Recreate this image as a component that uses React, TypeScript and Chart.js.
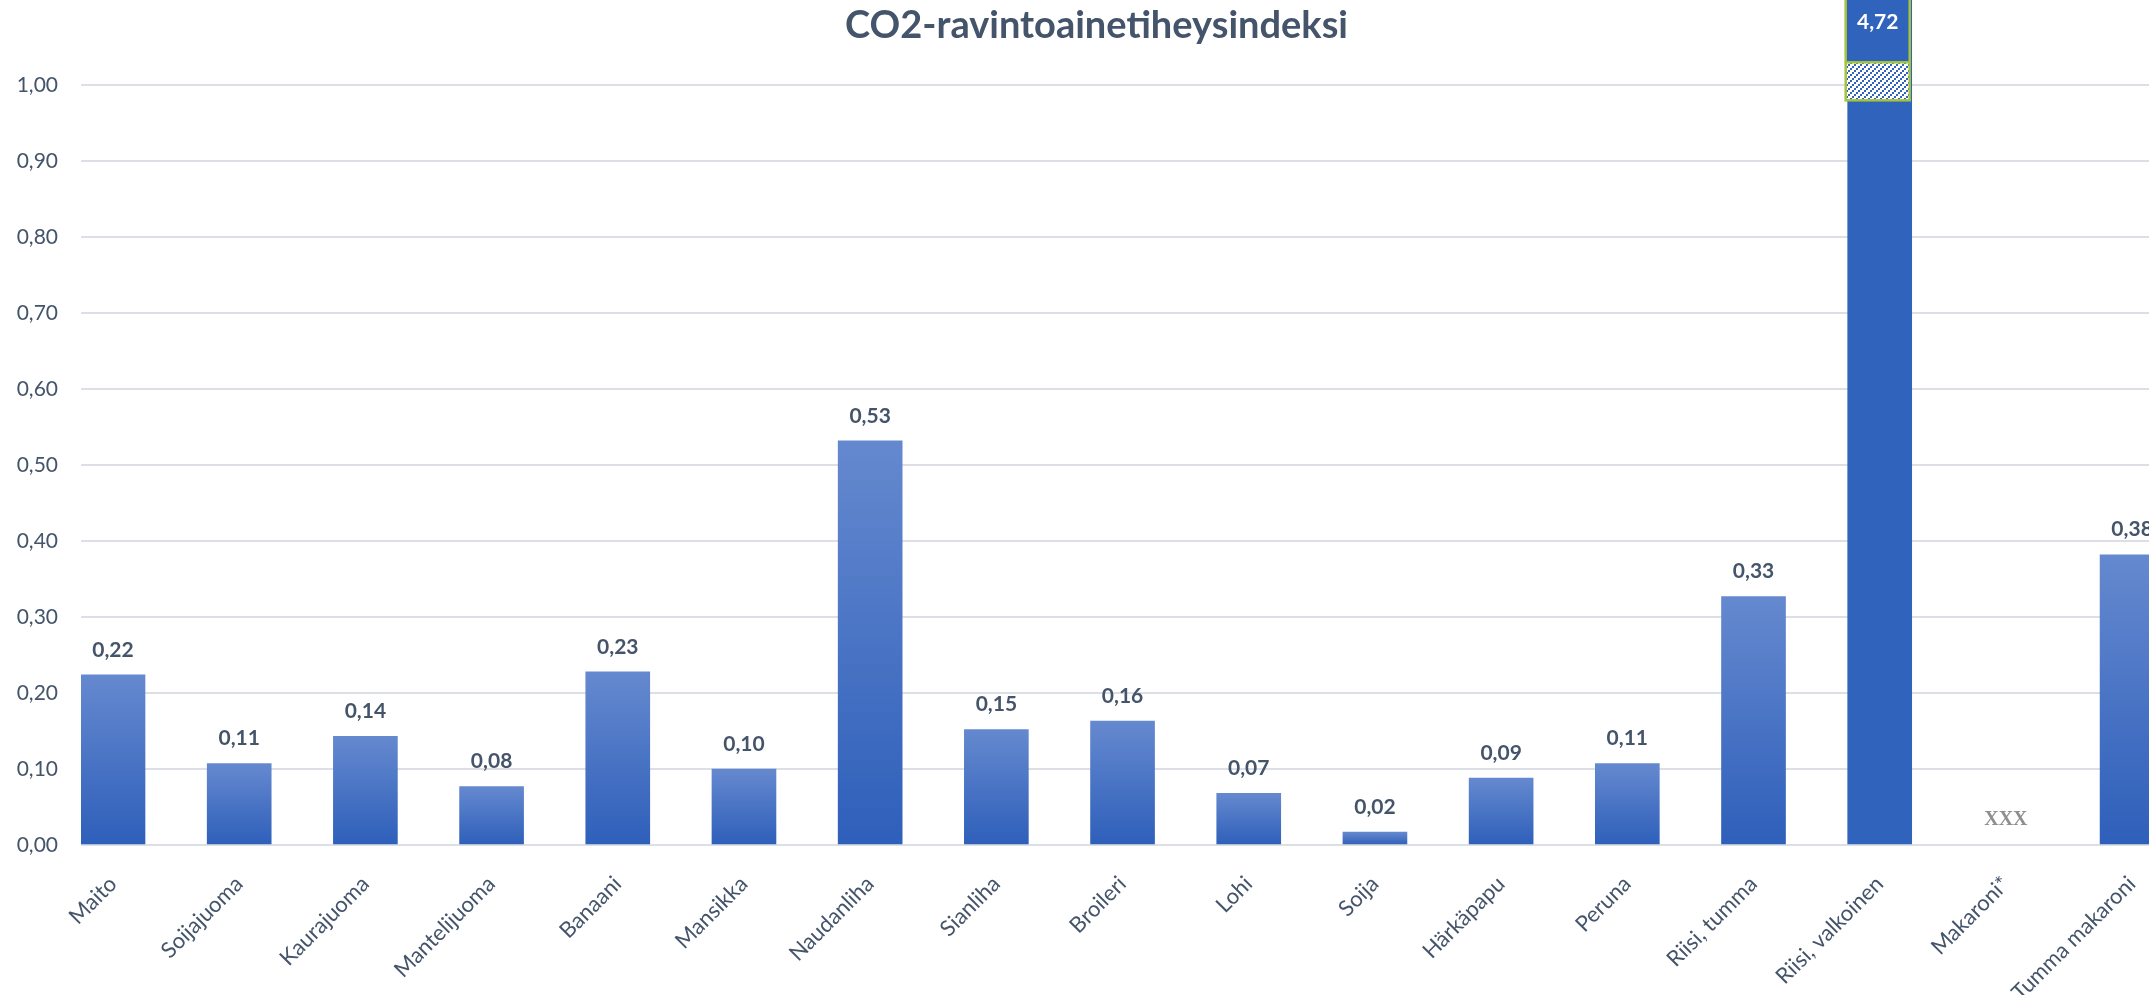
import { useEffect, useRef } from 'react';
import { Chart, registerables } from 'chart.js';

Chart.register(...registerables);

// Foods on the category axis
const categories = [
  'Maito',
  'Soijajuoma',
  'Kaurajuoma',
  'Mantelijuoma',
  'Banaani',
  'Mansikka',
  'Naudanliha',
  'Sianliha',
  'Broileri',
  'Lohi',
  'Soija',
  'Härkäpapu',
  'Peruna',
  'Riisi, tumma',
  'Riisi, valkoinen',
  'Makaroni*',
  'Tumma makaroni',
];

// CO2 nutrient density index per food (null = no value available)
const indexValues: (number | null)[] = [
  0.224, 0.107, 0.143, 0.077, 0.228, 0.1, 0.532, 0.152, 0.163, 0.068, 0.017, 0.088, 0.107, 0.327,
  4.72, null, 0.382,
];

const chartTitle = 'CO2-ravintoainetiheysindeksi';
const missingLabel = 'XXX';

// Value axis: labelled 0,00 … 1,00, with some headroom above for the broken bar
const yTickStep = 0.1;
const yTickMax = 1.0;
const yAxisMax = 1.112;
// Axis-break band drawn across bars that exceed the axis
const breakFrom = 0.98;
const breakTo = 1.03;

// Category axis window (index units)
const xAxisMin = -0.2536;
const xAxisMax = 16.134;

const TEXT = '#44546a';
const GRID = '#dcdfe6';
const BAR_TOP = '#6589cf';
const BAR_BOTTOM = '#2e5fba';
const BAR_SOLID = '#3063bb';
const BREAK_EDGE = '#a5c43b';

const fmt = (v: number) => v.toFixed(2).replace('.', ',');

// Diagonal dotted hatch used for the axis-break band
function makeHatch(ctx: CanvasRenderingContext2D) {
  const size = 6;
  const tile = document.createElement('canvas');
  tile.width = size;
  tile.height = size;
  const t = tile.getContext('2d')!;
  t.fillStyle = '#ffffff';
  t.fillRect(0, 0, size, size);
  t.fillStyle = BAR_SOLID;
  for (let k = 0; k < size; k += 2) {
    t.fillRect(k, size - 2 - k, 2, 2);
  }
  return ctx.createPattern(tile, 'repeat');
}

const annotations = {
  id: 'annotations',
  afterDatasetsDraw(chart: any) {
    const { ctx, chartArea, scales } = chart;
    const ys = scales.y;
    const xs = scales.x;
    const meta = chart.getDatasetMeta(0);
    ctx.save();
    indexValues.forEach((v, i) => {
      const cx = xs.getPixelForValue(i);
      if (v == null) {
        ctx.font = 'bold 20px "Liberation Serif"';
        ctx.fillStyle = '#8f8f8f';
        ctx.textAlign = 'center';
        ctx.textBaseline = 'middle';
        ctx.fillText(missingLabel, cx, ys.getPixelForValue(0) - 25);
        return;
      }
      if (v > yAxisMax) {
        const bar = meta.data[i];
        const w = bar.width;
        const x0 = cx - w / 2 - 2;
        const yHi = ys.getPixelForValue(breakTo);
        const yLo = ys.getPixelForValue(breakFrom);
        // upper segment beyond the break
        ctx.fillStyle = BAR_SOLID;
        ctx.fillRect(x0, chartArea.top, w, yHi - chartArea.top);
        // hatched break band
        ctx.fillStyle = makeHatch(ctx);
        ctx.fillRect(x0, yHi, w, yLo - yHi);
        ctx.strokeStyle = BREAK_EDGE;
        ctx.lineWidth = 2.5;
        ctx.strokeRect(x0, yHi, w, yLo - yHi);
        ctx.beginPath();
        ctx.moveTo(x0, chartArea.top);
        ctx.lineTo(x0, yHi);
        ctx.moveTo(x0 + w, chartArea.top);
        ctx.lineTo(x0 + w, yHi);
        ctx.stroke();
        ctx.font = 'bold 21px Lato';
        ctx.fillStyle = '#ffffff';
        ctx.textAlign = 'center';
        ctx.textBaseline = 'middle';
        ctx.fillText(fmt(v), cx - 2, (chartArea.top + yHi) / 2 - 9);
        return;
      }
      ctx.font = 'bold 21px Lato';
      ctx.fillStyle = TEXT;
      ctx.textAlign = 'center';
      ctx.textBaseline = 'middle';
      ctx.fillText(fmt(v), cx, ys.getPixelForValue(v) - 25);
    });
    ctx.restore();
  },
  afterDraw(chart: any) {
    const { ctx } = chart;
    ctx.save();
    ctx.font = 'bold 38px Lato';
    ctx.fillStyle = TEXT;
    ctx.textAlign = 'center';
    ctx.textBaseline = 'alphabetic';
    ctx.fillText(chartTitle, chart.width / 2 + 22, 38);
    ctx.restore();
  },
};

export default function App() {
  const canvasRef = useRef<HTMLCanvasElement | null>(null);

  useEffect(() => {
    const canvas = canvasRef.current;
    if (!canvas) return;
    const chart = new Chart(canvas, {
      type: 'bar',
      data: {
        datasets: [
          {
            data: indexValues.map((v, i) => ({ x: i, y: v })) as any,
            barThickness: 64,
            backgroundColor: (c: any) => {
              const ch = c.chart;
              const v = c.raw ? c.raw.y : null;
              if (!ch.chartArea || v == null || v > yAxisMax) return BAR_SOLID;
              const ys = ch.scales.y;
              const g = ch.ctx.createLinearGradient(0, ys.getPixelForValue(v), 0, ys.getPixelForValue(0));
              g.addColorStop(0, BAR_TOP);
              g.addColorStop(1, BAR_BOTTOM);
              return g;
            },
            borderWidth: 0,
          },
        ],
      },
      options: {
        animation: false,
        responsive: true,
        maintainAspectRatio: false,
        devicePixelRatio: 1,
        layout: { padding: 0 },
        plugins: {
          legend: { display: false },
          tooltip: { enabled: false },
          title: { display: false },
        },
        scales: {
          x: {
            type: 'linear',
            offset: false,
            min: xAxisMin,
            max: xAxisMax,
            grid: { display: false, offset: false },
            border: { display: false },
            ticks: {
              stepSize: 1,
              includeBounds: false,
              autoSkip: false,
              minRotation: 45,
              maxRotation: 45,
              padding: 18,
              color: TEXT,
              font: { family: 'Lato', size: 22 },
              callback: (v: any) => (Number.isInteger(v) && categories[v] ? categories[v] : ''),
            },
            afterFit: (s: any) => {
              s.height = 150;
              s.paddingLeft = 0;
              s.paddingRight = 0;
            },
          },
          y: {
            min: 0,
            max: yAxisMax,
            grid: { color: GRID, lineWidth: 2, drawTicks: false },
            border: { display: false },
            ticks: {
              stepSize: yTickStep,
              padding: 23,
              color: TEXT,
              font: { family: 'Lato', size: 21 },
              callback: (v: any) => fmt(Number(v)),
            },
            afterBuildTicks: (s: any) => {
              s.ticks = s.ticks.filter((t: any) => t.value <= yTickMax + 1e-9);
            },
            afterFit: (s: any) => {
              s.width = 81;
              s.paddingTop = 0;
              s.paddingBottom = 0;
            },
          },
        },
      },
      plugins: [annotations],
    });
    return () => chart.destroy();
  }, []);

  return (
    <div style={{ position: 'fixed', left: 0, top: 0, width: 2149, height: 995, background: '#ffffff' }}>
      <canvas ref={canvasRef} />
    </div>
  );
}
